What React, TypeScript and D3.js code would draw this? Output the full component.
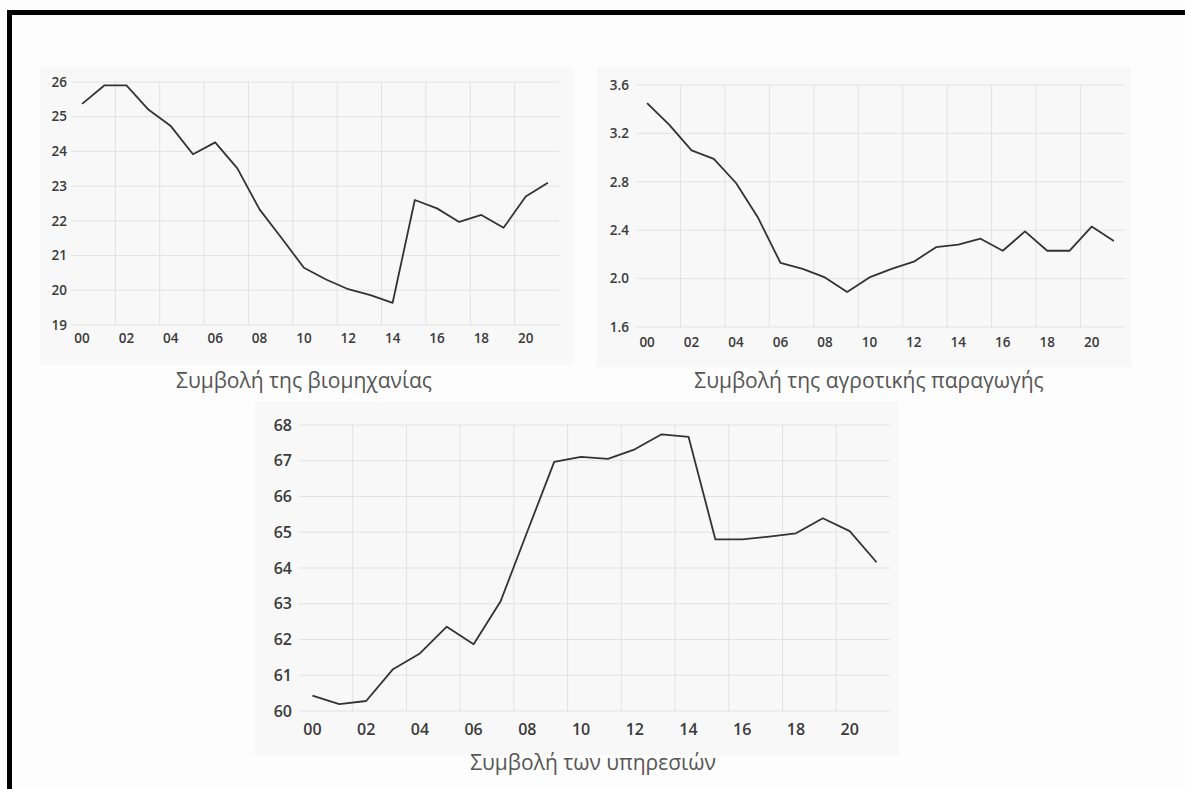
import React from "react";
import * as d3 from "d3";

const years = ["00","01","02","03","04","05","06","07","08","09","10","11","12","13","14","15","16","17","18","19","20","21"];
const industry = [25.37, 25.9, 25.9, 25.2, 24.73, 23.92, 24.26, 23.51, 22.33, 21.5, 20.65, 20.31, 20.03, 19.86, 19.64, 22.6, 22.36, 21.97, 22.17, 21.8, 22.7, 23.1];
const agriculture = [3.45, 3.27, 3.06, 2.99, 2.79, 2.5, 2.13, 2.08, 2.01, 1.89, 2.01, 2.08, 2.14, 2.26, 2.28, 2.33, 2.23, 2.39, 2.23, 2.23, 2.43, 2.31];
const services = [60.43, 60.19, 60.28, 61.17, 61.61, 62.36, 61.87, 63.06, 65.02, 66.97, 67.11, 67.05, 67.32, 67.74, 67.67, 64.8, 64.8, 64.88, 64.97, 65.39, 65.03, 64.16];
const industryTicks = [19, 20, 21, 22, 23, 24, 25, 26];
const agricultureTicks = [1.6, 2.0, 2.4, 2.8, 3.2, 3.6];
const servicesTicks = [60, 61, 62, 63, 64, 65, 66, 67, 68];
const titles = ["Συμβολή της βιομηχανίας", "Συμβολή της αγροτικής παραγωγής", "Συμβολή των υπηρεσιών"];

type Panel = {
  values: number[];
  ticks: number[];
  fmt: (v: number) => string;
  title: string;
  bg: [number, number, number, number];
  x0: number; x1: number; yTop: number; yBot: number;
  labelGap: number; xLabelY: number; titleX: number; titleY: number;
  tickSize: number; titleSize: number;
};

const panels: Panel[] = [
  { values: industry, ticks: industryTicks, fmt: d3.format("d"), title: titles[0],
    bg: [40, 68, 574, 365], x0: 71, x1: 559, yTop: 82, yBot: 325,
    labelGap: 4, xLabelY: 338, titleX: 304, titleY: 381, tickSize: 13.5, titleSize: 21 },
  { values: agriculture, ticks: agricultureTicks, fmt: d3.format(".1f"), title: titles[1],
    bg: [597, 68, 1131, 367], x0: 636, x1: 1125, yTop: 85, yBot: 327,
    labelGap: 7, xLabelY: 342, titleX: 869, titleY: 381, tickSize: 13.5, titleSize: 21 },
  { values: services, ticks: servicesTicks, fmt: d3.format("d"), title: titles[2],
    bg: [255, 402, 899, 755], x0: 299, x1: 890, yTop: 425, yBot: 711,
    labelGap: 7, xLabelY: 729, titleX: 593, titleY: 763, tickSize: 16, titleSize: 21 },
];

function Chart({ p }: { p: Panel }) {
  const x = d3.scaleLinear().domain([-0.5, years.length - 0.5]).range([p.x0, p.x1]);
  const y = d3.scaleLinear().domain([p.ticks[0], p.ticks[p.ticks.length - 1]]).range([p.yBot, p.yTop]);
  const line = d3.line<number>().x((_, i) => x(i)).y((d) => y(d));
  const vGrid = d3.range(1.5, years.length - 1, 2);
  const font = "'Open Sans', 'Liberation Sans', sans-serif";
  return (
    <g>
      <rect x={p.bg[0]} y={p.bg[1]} width={p.bg[2] - p.bg[0]} height={p.bg[3] - p.bg[1]} fill="#f8f8f8" />
      {p.ticks.map((t) => (
        <line key={"h" + t} x1={p.x0} x2={p.x1} y1={y(t)} y2={y(t)} stroke="#e2e2e2" strokeWidth={1} />
      ))}
      {vGrid.map((g) => (
        <line key={"v" + g} x1={x(g)} x2={x(g)} y1={p.yTop} y2={p.yBot} stroke="#e2e2e2" strokeWidth={1} />
      ))}
      {p.ticks.map((t) => (
        <text key={"yl" + t} x={p.x0 - p.labelGap} y={y(t)} dy="0.35em" textAnchor="end"
          fontFamily={font} fontWeight={600} fontSize={p.tickSize} fill="#3a3a3a">{p.fmt(t)}</text>
      ))}
      {years.map((yr, i) => i % 2 === 0 ? (
        <text key={"xl" + yr} x={x(i)} y={p.xLabelY} dy="0.35em" textAnchor="middle"
          fontFamily={font} fontWeight={600} fontSize={p.tickSize} fill="#3a3a3a">{yr}</text>
      ) : null)}
      <path d={line(p.values) || ""} fill="none" stroke="#333" strokeWidth={1.8} strokeLinejoin="round" />
      <text x={p.titleX} y={p.titleY} dy="0.35em" textAnchor="middle" fontFamily={font}
        fontSize={p.titleSize} fill="#555">{p.title}</text>
    </g>
  );
}

export default function App() {
  return (
    <svg width={1185} height={789} style={{ position: "absolute", left: 0, top: 0, background: "#fdfdfd" }}>
      <rect x={0} y={0} width={1185} height={789} fill="#fdfdfd" />
      {panels.map((p, i) => <Chart key={i} p={p} />)}
      <rect x={7} y={10} width={1178} height={5} fill="#000" />
      <rect x={7} y={10} width={5} height={779} fill="#000" />
    </svg>
  );
}
